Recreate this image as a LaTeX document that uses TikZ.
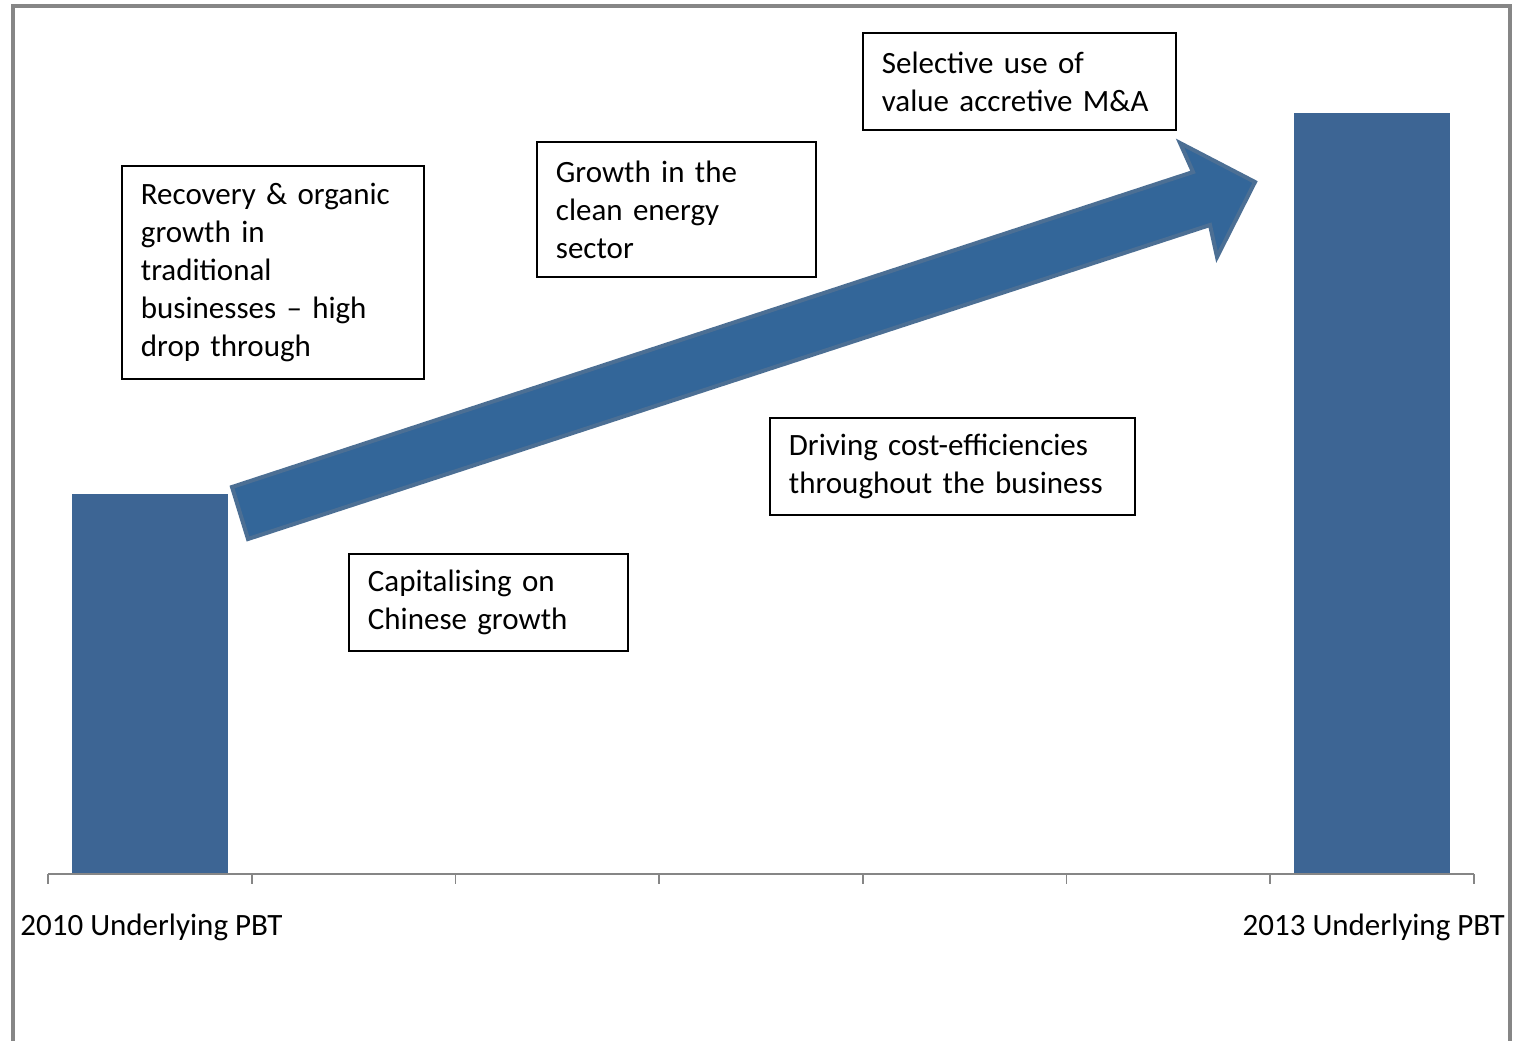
\documentclass[tikz,border=0pt]{standalone}
\usepackage{fontspec}
\setmainfont{Carlito}
\definecolor{barblue}{RGB}{61,101,148}
\definecolor{arrowblue}{RGB}{51,102,153}
\definecolor{arrowedge}{RGB}{76,111,148}
\definecolor{framegray}{RGB}{134,134,134}
\usetikzlibrary{positioning}

\begin{document}
\begin{tikzpicture}[
  x=0.5pt, y=-0.5pt,
  tbox/.style={rectangle, draw=black, line width=0.9pt, anchor=north west, align=left,
    inner xsep=9.5pt, inner ysep=0pt, font=\fontsize{15.5}{19}\selectfont},
  lbl/.style={font=\fontsize{15.5}{19}\selectfont, inner sep=0pt},
  axis/.style={draw=framegray, line width=0.9pt},
  bar/.style={fill=barblue}
]
  \useasboundingbox (0,0) rectangle (1513,1040);
  \fill[white] (0,0) rectangle (1513,1040);

  % outer frame
  \draw[framegray, line width=2pt] (13,1050) -- (13,6) -- (1510,6) -- (1510,1050);

  % bars
  \fill[bar] (72,494) rectangle (228,874);
  \fill[bar] (1294,113) rectangle (1450,874);

  % axis and ticks
  \draw[axis] (48,874) -- (1474,874);
  \foreach \i in {0,...,7}
    \draw[axis] ({48+203.71*\i},874) -- ++(0,10);

  \node[lbl, anchor=base west] (lbl2010) at (20,935) {2010 Underlying PBT};
  \node[lbl, anchor=base east] (lbl2013) at (1505,935) {2013 Underlying PBT};

  % growth arrow
  \filldraw[fill=arrowblue, draw=arrowedge, line width=2pt, line join=miter]
    (232,487) -- (1193,172) -- (1180,143) -- (1255,182) -- (1217,257)
    -- (1210,225) -- (248,539) -- cycle;

  % text boxes
  \node[tbox, text width=132pt, minimum height=106.5pt] (recovery) at (121,165)
    {Recovery \& organic\\growth in\\traditional\\businesses -- high\\drop through};
  \node[tbox, text width=120.5pt, minimum height=67.5pt] (cleanenergy) at (536,141)
    {Growth in the\\clean energy\\sector};
  \node[tbox, text width=137.5pt, minimum height=48.5pt] (mna) at (862,32)
    {Selective use of\\value accretive M\&A};
  \node[tbox, text width=163.5pt, minimum height=48.5pt] (costeff) at (769,417)
    {Driving cost-efficiencies\\throughout the business};
  \node[tbox, text width=120.5pt, minimum height=48.5pt] (china) at (348,553)
    {Capitalising on\\Chinese growth};
\end{tikzpicture}
\end{document}
